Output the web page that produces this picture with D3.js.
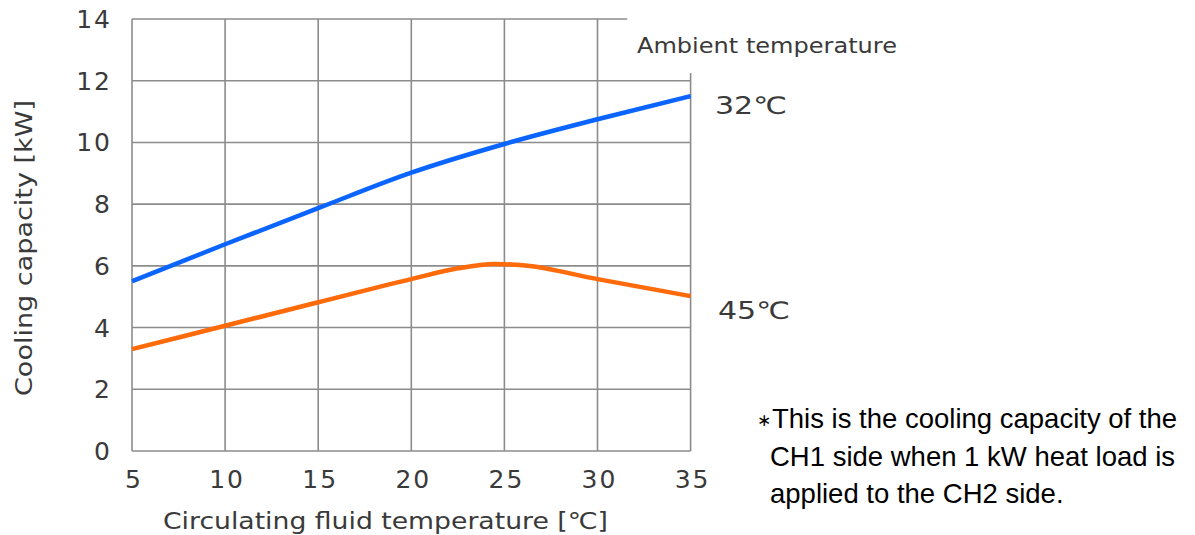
<!DOCTYPE html>
<html><head><meta charset="utf-8">
<script src="https://cdn.jsdelivr.net/npm/d3@7"></script>
<style>body{margin:0;background:#fff;} svg{display:block;}</style>
</head><body>
<svg id="c" width="1195" height="535"></svg>
<script>
const xTicks = [5, 10, 15, 20, 25, 30, 35];
const yTicks = [0, 2, 4, 6, 8, 10, 12, 14];
const blueX = [5, 10, 15, 20, 25, 30, 35];
const blueY = [5.5, 6.7, 7.87, 9.02, 9.95, 10.75, 11.5];
const orangeX = [5, 10, 15, 20, 22.5, 24.5, 26, 30, 35];
const orangeY = [3.3, 4.06, 4.82, 5.57, 5.92, 6.06, 6.02, 5.57, 5.02];
const seriesNames = ["32℃", "45℃"];
const xTitle = "Circulating fluid temperature [℃]";
const yTitle = "Cooling capacity [kW]";
const legendTitle = "Ambient temperature";
const noteMark = "∗";
const note = ["This is the cooling capacity of the", "CH1 side when 1 kW heat load is", "applied to the CH2 side."];

const svg = d3.select("#c");
const x = d3.scaleLinear().domain([5, 35]).range([132, 690.6]);
const y = d3.scaleLinear().domain([0, 14]).range([451, 19]);
const grid = "#8c8c8c";
const font = "'DejaVu Sans', 'Noto Sans CJK JP', sans-serif";
const txt = "#3a3a3a";
const g = svg.append("g");

// horizontal gridlines
g.selectAll("line.h").data(yTicks).join("line")
  .attr("x1", x(5)).attr("x2", d => d === 14 ? x(31.6) : x(35))
  .attr("y1", d => y(d)).attr("y2", d => y(d))
  .attr("stroke", grid).attr("stroke-width", 1.6);
// vertical gridlines
g.selectAll("line.v").data(xTicks).join("line")
  .attr("x1", d => x(d)).attr("x2", d => x(d))
  .attr("y1", y(0)).attr("y2", d => d === 35 ? y(12.25) : y(14))
  .attr("stroke", grid).attr("stroke-width", 1.6);

// tick labels
g.selectAll("text.yt").data(yTicks).join("text")
  .attr("x", 112).attr("y", d => y(d)).attr("dy", "0.36em")
  .attr("text-anchor", "end").attr("font-family", font).attr("font-size", 25)
  .attr("letter-spacing", 2).attr("fill", txt).text(d => d);
g.selectAll("text.xt").data(xTicks).join("text")
  .attr("x", d => x(d) + 2).attr("y", 488)
  .attr("text-anchor", "middle").attr("font-family", font).attr("font-size", 25)
  .attr("letter-spacing", 2).attr("fill", txt).text(d => d);

// lines
const line = d3.line().x(d => x(d[0])).y(d => y(d[1])).curve(d3.curveMonotoneX);
g.append("path").datum(blueX.map((v, i) => [v, blueY[i]]))
  .attr("d", line).attr("fill", "none").attr("stroke", "#0a64ff").attr("stroke-width", 4.5);
g.append("path").datum(orangeX.map((v, i) => [v, orangeY[i]]))
  .attr("d", line).attr("fill", "none").attr("stroke", "#ff6a0a").attr("stroke-width", 4.5);

// series labels
g.append("text").attr("x", 715).attr("y", 114).attr("font-family", font).attr("font-size", 24)
  .attr("textLength", 72).attr("lengthAdjust", "spacingAndGlyphs")
  .attr("fill", txt).text(seriesNames[0]);
g.append("text").attr("x", 718).attr("y", 319).attr("font-family", font).attr("font-size", 24)
  .attr("textLength", 72).attr("lengthAdjust", "spacingAndGlyphs")
  .attr("fill", txt).text(seriesNames[1]);
g.append("text").attr("x", 637).attr("y", 53).attr("font-family", font).attr("font-size", 22)
  .attr("textLength", 260).attr("lengthAdjust", "spacingAndGlyphs")
  .attr("fill", txt).text(legendTitle);

// axis titles
g.append("text").attr("x", 163).attr("y", 529)
  .attr("textLength", 445).attr("lengthAdjust", "spacingAndGlyphs")
  .attr("font-family", font).attr("font-size", 23).attr("fill", txt).text(xTitle);
g.append("text").attr("transform", "translate(32,396) rotate(-90)")
  .attr("textLength", 296).attr("lengthAdjust", "spacingAndGlyphs")
  .attr("font-family", font).attr("font-size", 23).attr("fill", txt).text(yTitle);

// note
const nf = "'Liberation Sans', Arial, sans-serif";
g.append("text").attr("x", 757).attr("y", 426).attr("font-family", "'DejaVu Sans', sans-serif")
  .attr("font-size", 17).attr("fill", "#000").text(noteMark);
g.selectAll("text.note").data(note).join("text")
  .attr("x", (d, i) => i === 0 ? 772 : 770).attr("y", (d, i) => 428 + i * 37.5)
  .attr("font-family", nf).attr("font-size", 27.5).attr("fill", "#000").text(d => d);
</script>
</body></html>
